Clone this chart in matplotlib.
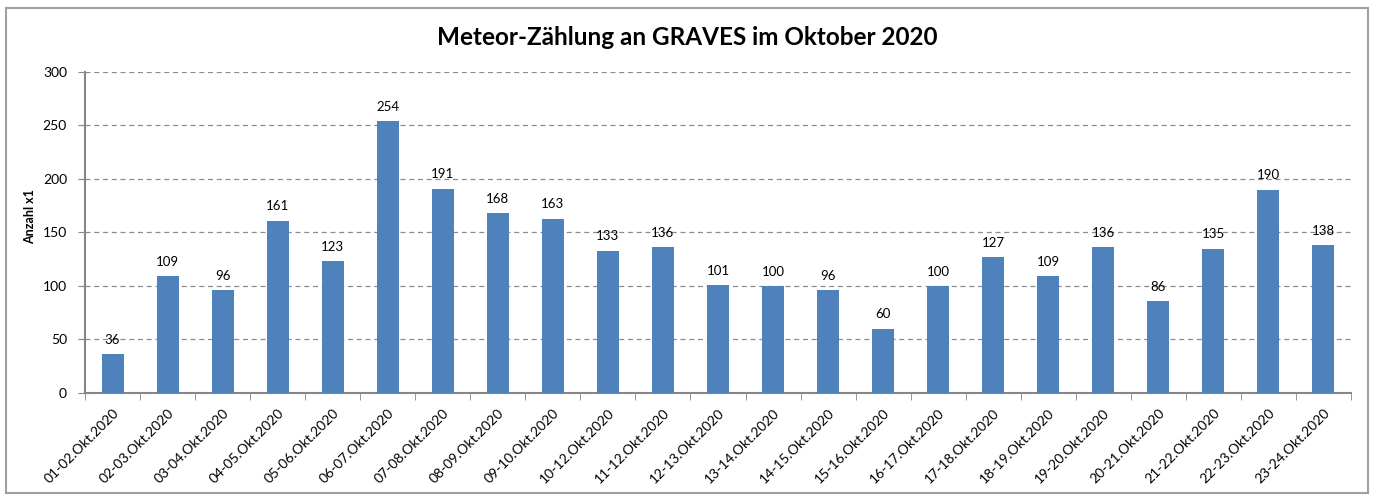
import numpy as np
import matplotlib
matplotlib.use("Agg")
import matplotlib.pyplot as plt
from matplotlib.patches import Rectangle

# Daten
nights = ["01-02.Okt.2020", "02-03.Okt.2020", "03-04.Okt.2020", "04-05.Okt.2020",
          "05-06.Okt.2020", "06-07.Okt.2020", "07-08.Okt.2020", "08-09.Okt.2020",
          "09-10.Okt.2020", "10-12.Okt.2020", "11-12.Okt.2020", "12-13.Okt.2020",
          "13-14.Okt.2020", "14-15.Okt.2020", "15-16.Okt.2020", "16-17.Okt.2020",
          "17-18.Okt.2020", "18-19.Okt.2020", "19-20.Okt.2020", "20-21.Okt.2020",
          "21-22.Okt.2020", "22-23.Okt.2020", "23-24.Okt.2020"]
counts = [36, 109, 96, 161, 123, 254, 191, 168, 163, 133, 136, 101,
          100, 96, 60, 100, 127, 109, 136, 86, 135, 190, 138]
y_ticks = [0, 50, 100, 150, 200, 250, 300]

plt.rcParams['font.family'] = ['Lato', 'DejaVu Sans']

fig = plt.figure(figsize=(13.76, 5.01), dpi=100)
ax = fig.add_axes([0.0618, 0.2156, 0.9200, 0.6407])

# Rahmen um das Diagramm
fig.patches.append(Rectangle((6 / 1376, 8 / 501), 1362 / 1376, 485 / 501,
                             transform=fig.transFigure, fill=False,
                             edgecolor='#a0a0a0', linewidth=1.5))

x = np.arange(len(counts))
ax.bar(x, counts, width=0.4, color='#4f81bd', zorder=3)

for xi, c in zip(x, counts):
    ax.annotate(str(c), (xi, c), xytext=(0, 6), textcoords='offset points',
                ha='center', va='bottom', fontsize=9.5, zorder=4)

ax.set_xlim(-0.5, len(counts) - 0.5)
ax.set_ylim(0, 300)
ax.set_yticks(y_ticks)
ax.yaxis.grid(True, linestyle=(0, (4, 3)), color='#8c8c8c', linewidth=0.9, zorder=0)
ax.tick_params(axis='y', length=5, color='#868686', labelsize=10, pad=8)

ax.set_xticks(x)
ax.set_xticklabels(nights, rotation=45, ha='right', rotation_mode='anchor', fontsize=10)
ax.set_xticks(np.arange(-0.5, len(counts)), minor=True)
ax.tick_params(axis='x', which='major', length=0, pad=10)
ax.tick_params(axis='x', which='minor', length=5, color='#868686')

for s in ['top', 'right']:
    ax.spines[s].set_visible(False)
for s in ['left', 'bottom']:
    ax.spines[s].set_color('#868686')
    ax.spines[s].set_linewidth(1.5)

ax.set_ylabel("Anzahl x1", fontsize=9, fontweight='bold')
ax.yaxis.set_label_coords(-0.039, 0.55)
fig.text(0.4993, 0.925, "Meteor-Zählung an GRAVES im Oktober 2020",
         ha='center', va='center', fontsize=17.5, fontweight='bold')

fig.savefig("out.png", dpi=100)
